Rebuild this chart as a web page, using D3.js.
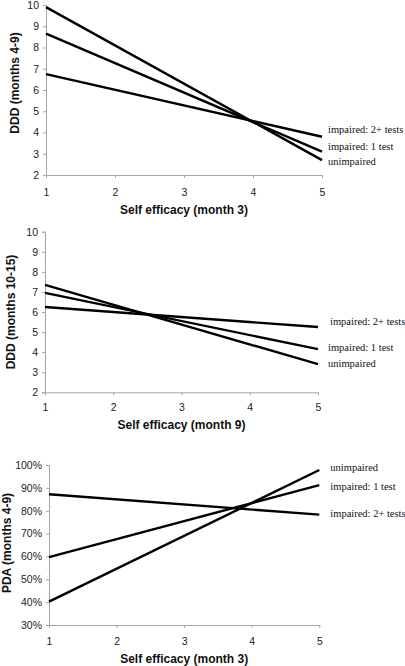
<!DOCTYPE html>
<html><head><meta charset="utf-8">
<script src="https://cdn.jsdelivr.net/npm/d3@7"></script>
<style>
body{margin:0;background:#fff;}
svg{display:block;}
</style></head><body>
<script>
// ---- data ----
const xEnds = [1, 5];
const xTicks = [1, 2, 3, 4, 5];
const seriesNames = ["unimpaired", "impaired: 1 test", "impaired: 2+ tests"];

const p1Unimpaired = [9.9, 2.7];
const p1Impaired1 = [8.65, 3.1];
const p1Impaired2 = [6.75, 3.8];
const p1YTicks = [2, 3, 4, 5, 6, 7, 8, 9, 10];

const p2Unimpaired = [7.35, 3.4];
const p2Impaired1 = [6.95, 4.15];
const p2Impaired2 = [6.25, 5.25];
const p2YTicks = [2, 3, 4, 5, 6, 7, 8, 9, 10];

const p3Unimpaired = [0.402, 0.978];
const p3Impaired1 = [0.597, 0.912];
const p3Impaired2 = [0.872, 0.783];
const p3YTicks = [0.3, 0.4, 0.5, 0.6, 0.7, 0.8, 0.9, 1.0];

const panels = [
  {series:[p1Unimpaired,p1Impaired1,p1Impaired2], yTicks:p1YTicks, yDomain:[2,10], fmt:d3.format("d"),
   yTitle:"DDD (months 4-9)", xTitle:"Self efficacy (month 3)",
   L:46, R:322, T:5, B:175, yTitleX:16, yTitleY:83, xLabY:193, xTitleY:214,
   labDx:[6,6,6], labDy:[2.3,-3.7,-6]},
  {series:[p2Unimpaired,p2Impaired1,p2Impaired2], yTicks:p2YTicks, yDomain:[2,10], fmt:d3.format("d"),
   yTitle:"DDD (months 10-15)", xTitle:"Self efficacy (month 9)",
   L:45, R:318, T:231.7, B:392.3, yTitleX:12, yTitleY:312, xLabY:408, xTitleY:429,
   labDx:[10,10,12], labDy:[0.7,-1,-4]},
  {series:[p3Unimpaired,p3Impaired1,p3Impaired2], yTicks:p3YTicks, yDomain:[0.3,1.0], fmt:d3.format(".0%"),
   yTitle:"PDA (months 4-9)", xTitle:"Self efficacy (month 3)",
   L:49, R:319.3, T:465, B:625, yTitleX:8, yTitleY:543, xLabY:642, xTitleY:663,
   labDx:[11,11,11], labDy:[-1,2.3,0]}
];

const svg = d3.select("body").append("svg").attr("width",405).attr("height",666);
const axisColor = "#a6a6a6";

panels.forEach(p => {
  const x = d3.scaleLinear().domain([1,5]).range([p.L,p.R]);
  const y = d3.scaleLinear().domain(p.yDomain).range([p.B,p.T]);
  const g = svg.append("g");

  // y axis
  const ya = g.append("g").attr("transform",`translate(${p.L},0)`)
    .call(d3.axisLeft(y).tickValues(p.yTicks).tickFormat(p.fmt).tickSize(3).tickPadding(4));
  ya.select(".domain").attr("stroke",axisColor);
  ya.selectAll(".tick line").attr("stroke",axisColor);
  ya.selectAll("text").attr("font-family","Liberation Sans, Arial, sans-serif").attr("font-size",10.5).attr("fill","#222");

  // x axis
  const xa = g.append("g").attr("transform",`translate(0,${p.B})`)
    .call(d3.axisBottom(x).tickValues(xTicks).tickFormat(d3.format("d")).tickSize(3).tickSizeOuter(0).tickPadding(0));
  xa.select(".domain").attr("stroke",axisColor);
  xa.selectAll(".tick line").attr("stroke",axisColor);
  xa.selectAll("text").attr("font-family","Liberation Sans, Arial, sans-serif").attr("font-size",10.5).attr("fill","#222")
    .attr("y", null).attr("dy",null)
    .attr("transform",`translate(0,${p.xLabY - p.B})`).attr("dominant-baseline","middle");

  // lines
  const line = d3.line().x((d,i)=>x(xEnds[i])).y(d=>y(d));
  p.series.forEach((s,i) => {
    g.append("path").datum(s).attr("d",line).attr("fill","none").attr("stroke","#000").attr("stroke-width",2.4);
    g.append("text").attr("x", x(xEnds[1]) + p.labDx[i]).attr("y", y(s[1]) + p.labDy[i])
      .attr("dominant-baseline","middle")
      .attr("font-family","Liberation Serif, Times New Roman, serif").attr("font-size",10.5).attr("fill","#111")
      .text(seriesNames[i]);
  });

  // titles
  g.append("text").attr("x",(p.L+p.R)/2).attr("y",p.xTitleY).attr("text-anchor","middle")
    .attr("font-family","Liberation Sans, Arial, sans-serif").attr("font-weight","bold").attr("font-size",12).attr("fill","#111")
    .text(p.xTitle);
  g.append("text").attr("transform",`translate(${p.yTitleX},${p.yTitleY}) rotate(-90)`).attr("text-anchor","middle")
    .attr("dominant-baseline","middle")
    .attr("font-family","Liberation Sans, Arial, sans-serif").attr("font-weight","bold").attr("font-size",12).attr("fill","#111")
    .text(p.yTitle);
});
</script>
</body></html>
